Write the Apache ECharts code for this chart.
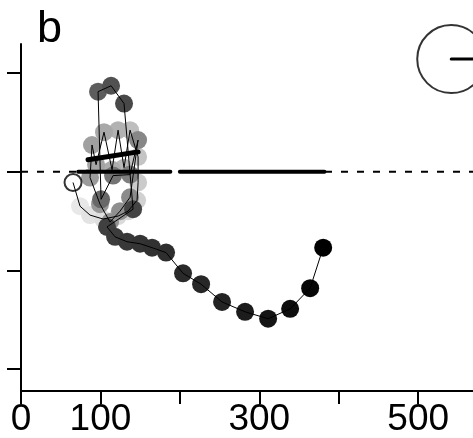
<!DOCTYPE html>
<html>
<head>
<meta charset="utf-8">
<script src="https://cdn.jsdelivr.net/npm/echarts@6/dist/echarts.min.js"></script>
<style>html,body{margin:0;padding:0;background:#fff}#c{width:473px;height:438px}</style>
</head>
<body>
<div id="c"></div>
<script>
// ---- data ----
const xTicks = [0, 100, 200, 300, 400, 500];
const xLabels = [0, 100, 300, 500];
const yTicks = [-2, -1, 0, 1];
const panelLabel = 'b';

// trajectory (time order), start point first
const startPoint = [65.5, -0.11];
const trajX = [74.3, 86.9, 103.3, 122.2, 134.8, 146.1, 147.4, 147.4, 137.3, 129.7,
  122.2, 114.6, 104.5, 94.5, 89.4, 86.9, 99.5, 112.1, 124.7, 137.3,
  147.4, 137.3, 115.9, 100.8, 97.0, 113.4, 129.7, 141.1, 108.3, 118.4,
  133.5, 149.9, 165.0, 182.6, 204.0, 226.7, 253.1, 282.1, 311.1, 338.8,
  364.0, 380.4];
const trajY = [-0.35, -0.44, -0.48, -0.45, -0.40, -0.29, -0.11, 0.15, 0.42, 0.04,
  0.42, 0.02, 0.40, 0.07, 0.27, -0.06, -0.33, -0.51, -0.40, -0.26,
  0.32, -0.03, -0.04, -0.28, 0.81, 0.87, 0.69, -0.38, -0.56, -0.66,
  -0.71, -0.73, -0.77, -0.82, -1.03, -1.14, -1.32, -1.42, -1.49, -1.39,
  -1.18, -0.77];

// thick segments
const zeroSegA = [[72, 0], [188, 0]];
const zeroSegB = [[200, 0], [382, 0]];
const slantSeg = [[84.4, 0.12], [147.4, 0.20]];
const baseline = [[0, 0], [569, 0]];
// clock-like annotation
const clockCenter = [541.6, 1.14];
const clockHand = [[541.6, 1.14], [575, 1.14]];

// ---- chart ----
const dots = trajX.map((x, i) => [x, trajY[i], i]);
const path = [startPoint].concat(trajX.map((x, i) => [x, trajY[i]]));

const chart = echarts.init(document.getElementById('c'), null, {renderer: 'canvas'});
const FONT = '"Liberation Sans", Arial, sans-serif';

function thick(data, w) {
  return {type: 'line', data: data, showSymbol: false, symbol: 'none', silent: true,
    lineStyle: {color: '#000', width: w, cap: 'round'}, z: 4, animation: false};
}

chart.setOption({
  animation: false,
  backgroundColor: '#fff',
  title: {text: panelLabel, left: 32, top: 2,
    textStyle: {fontFamily: FONT, fontSize: 45, fontWeight: 'normal', color: '#000'}},
  grid: {left: 21, right: 0, top: 44, bottom: 46, containLabel: false},
  xAxis: {type: 'value', min: 0, max: 569,
    axisLine: {show: true, onZero: false, lineStyle: {color: '#000', width: 2}},
    axisTick: {show: true, length: 13, lineStyle: {color: '#000', width: 2}, customValues: xTicks},
    axisLabel: {show: true, margin: 10, customValues: xLabels, fontFamily: FONT, fontSize: 37, color: '#000'},
    splitLine: {show: false}},
  yAxis: {type: 'value', min: -2.222, max: 1.293,
    axisLine: {show: true, onZero: false, lineStyle: {color: '#000', width: 2}},
    axisTick: {show: true, length: 14, lineStyle: {color: '#000', width: 2}, customValues: yTicks},
    axisLabel: {show: false},
    splitLine: {show: false}},
  visualMap: {type: 'continuous', show: false, seriesIndex: 0, dimension: 2, min: 0, max: 41,
    inRange: {color: ['#e8e8e8', '#d0d0d0', '#b0b0b0', '#9a9a9a', '#858585', '#4a4a4a', '#353535', '#242424', '#000000']}},
  series: [
    {type: 'scatter', data: dots, symbolSize: 18, z: 1, itemStyle: {opacity: 1}},
    {type: 'line', data: path, showSymbol: false, symbol: 'none', z: 2,
      lineStyle: {color: '#000', width: 1}},
    {type: 'line', data: baseline, showSymbol: false, symbol: 'none', z: 3,
      lineStyle: {color: '#000', width: 2, type: [7, 9]}},
    thick(zeroSegA, 4),
    thick(zeroSegB, 4),
    thick(slantSeg, 5),
    {type: 'scatter', data: [startPoint], symbol: 'circle', symbolSize: 17, z: 5,
      itemStyle: {color: 'rgba(0,0,0,0)', borderColor: '#000', borderWidth: 2}},
    {type: 'scatter', data: [clockCenter], symbol: 'circle', symbolSize: 68, z: 5,
      itemStyle: {color: 'rgba(0,0,0,0)', borderColor: '#000', borderWidth: 2}},
    thick(clockHand, 3)
  ]
});
</script>
</body>
</html>
